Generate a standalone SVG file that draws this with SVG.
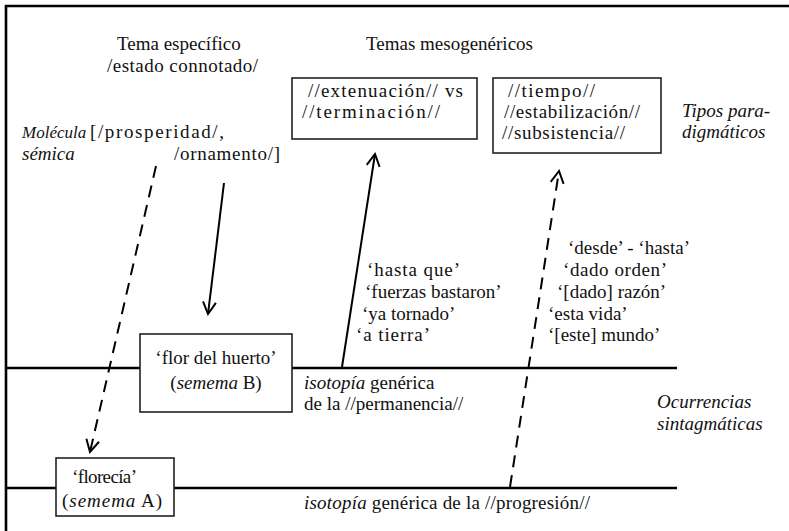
<svg xmlns="http://www.w3.org/2000/svg" width="789" height="531" viewBox="0 0 789 531">
<style>
text{font-family:"Liberation Serif","Times New Roman",serif;font-size:19px;fill:#111}
.it{font-style:italic}
.box{fill:#fff;stroke:#222;stroke-width:1.6}
.conn{fill:none;stroke:#000;stroke-width:2}
.dash{stroke-dasharray:12 8}
.rule{stroke:#000;stroke-width:2.6;fill:none}
</style>
<defs>
<marker id="ah" viewBox="-14 -8 16 16" refX="0" refY="0" markerWidth="16" markerHeight="16" markerUnits="userSpaceOnUse" orient="auto">
<path d="M-12,-6.5 L0,0 L-12,6.5" fill="none" stroke="#000" stroke-width="2" stroke-dasharray="none"/>
</marker>
</defs>
<rect width="789" height="531" fill="#fff"/>
<g id="frame">
<path class="rule" d="M6,531 V6 H789" stroke-width="3"/>
</g>
<g id="isotopies">
<line class="rule" x1="6" y1="368" x2="677" y2="368"/>
<line class="rule" x1="6" y1="488" x2="677" y2="488"/>
</g>
<g id="labels">
<text x="117" y="50">Tema específico</text>
<text x="107" y="72" textLength="151">/estado connotado/</text>
<text x="366" y="50">Temas mesogenéricos</text>
<text class="it" x="22" y="138" style="font-size:17px">Molécula</text>
<text x="90" y="138" textLength="134">[/prosperidad/,</text>
<text class="it" x="22" y="160">sémica</text>
<text x="174" y="160" textLength="106">/ornamento/]</text>
<text class="it" x="682" y="117">Tipos para-</text>
<text class="it" x="682" y="138">digmáticos</text>
<text class="it" x="657" y="408">Ocurrencias</text>
<text class="it" x="657" y="430">sintagmáticas</text>
<text x="304" y="389"><tspan class="it">isotopía</tspan> genérica</text>
<text x="304" y="410">de la //permanencia//</text>
<text x="304" y="509" textLength="286"><tspan class="it">isotopía</tspan> genérica de la //progresión//</text>
<text x="367" y="276" textLength="93">‘hasta que’</text>
<text x="365" y="298">‘fuerzas bastaron’</text>
<text x="362" y="320">‘ya tornado’</text>
<text x="356" y="341" textLength="74">‘a tierra’</text>
<text x="568" y="254">‘desde’ - ‘hasta’</text>
<text x="563" y="276" textLength="104">‘dado orden’</text>
<text x="557" y="298">‘[dado] razón’</text>
<text x="548" y="320">‘esta vida’</text>
<text x="548" y="341">‘[este] mundo’</text>
</g>
<g id="connectors">
<line class="conn dash" x1="156" y1="166" x2="90" y2="452" marker-end="url(#ah)"/>
<line class="conn" x1="224" y1="183" x2="208" y2="314" marker-end="url(#ah)"/>
<line class="conn" x1="342" y1="367" x2="375" y2="154" marker-end="url(#ah)"/>
<line class="conn dash" x1="510" y1="487" x2="559" y2="171" marker-end="url(#ah)"/>
</g>
<g id="tipo-extenuacion">
<rect class="box" x="292" y="78" width="185" height="61"/>
<text x="308" y="97" textLength="155">//extenuación// vs</text>
<text x="302" y="118" textLength="138">//terminación//</text>
</g>
<g id="tipo-tiempo">
<rect class="box" x="493" y="78" width="168" height="75"/>
<text x="508" y="97" textLength="87">//tiempo//</text>
<text x="504" y="118" textLength="136">//estabilización//</text>
<text x="502" y="139" textLength="123">//subsistencia//</text>
</g>
<g id="semema-b">
<rect class="box" x="140" y="334" width="152" height="78"/>
<text x="216" y="364" text-anchor="middle">‘flor del huerto’</text>
<text x="216" y="389" text-anchor="middle">(<tspan class="it">semema</tspan> B)</text>
</g>
<g id="semema-a">
<rect class="box" x="56" y="458" width="118" height="58"/>
<text x="72" y="483" textLength="65">‘florecía’</text>
<text x="62" y="507" textLength="100">(<tspan class="it">semema</tspan> A)</text>
</g>
</svg>
